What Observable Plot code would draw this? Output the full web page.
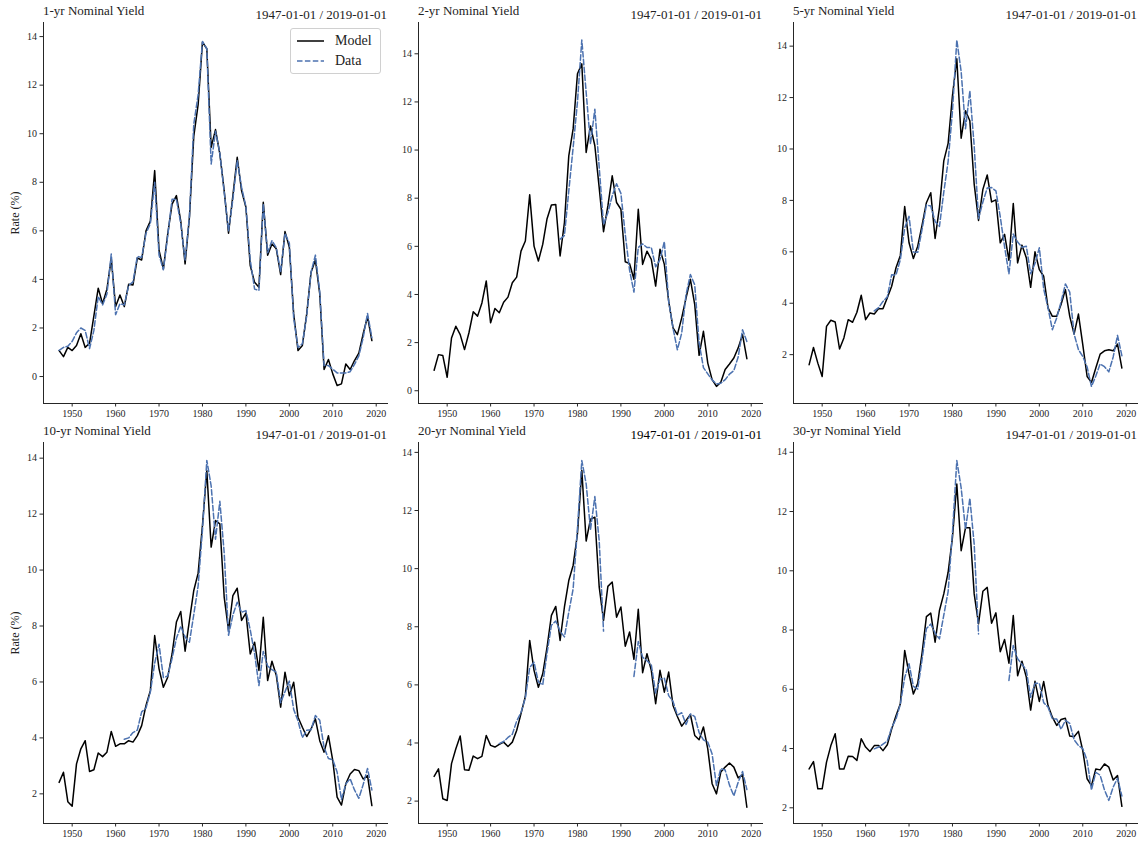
<!DOCTYPE html>
<html>
<head>
<meta charset="utf-8">
<script src="https://cdn.jsdelivr.net/npm/d3@7"></script>
<script src="https://cdn.jsdelivr.net/npm/@observablehq/plot@0.6"></script>
<style>
  html, body { margin: 0; padding: 0; background: #fff; }
  #root { position: relative; width: 1143px; height: 843px; font-family: "Liberation Serif", "DejaVu Serif", serif; color: #222; }
  .panel { position: absolute; }
  .ttl { position: absolute; font-size: 13px; line-height: 14px; white-space: nowrap; }
  .ylab { position: absolute; font-size: 12px; white-space: nowrap; transform: translate(-50%, -50%) rotate(-90deg); }
  .legend { position: absolute; left: 290px; top: 28px; width: 89px; height: 44px; border: 1px solid #d0d0d0; border-radius: 3px; background: rgba(255,255,255,0.85); }
  .legend .item { position: absolute; left: 44px; font-size: 14px; line-height: 16px; }
</style>
</head>
<body>
<div id="root"></div>
<script>
// ---------------- data ----------------
const years = d3.range(1947, 2020); // 1947 ... 2019 (annual, January)
const xTicks = [1950, 1960, 1970, 1980, 1990, 2000, 2010, 2020];
const seriesNames = ["Model", "Data"];
const panelTitles = ["1-yr Nominal Yield", "2-yr Nominal Yield", "5-yr Nominal Yield",
                     "10-yr Nominal Yield", "20-yr Nominal Yield", "30-yr Nominal Yield"];
const dateRangeLabel = "1947-01-01 / 2019-01-01";
const yAxisLabel = "Rate (%)";

const model1 = [1.07,0.82,1.2,1.07,1.28,1.76,1.2,1.37,2.5,3.64,
  3.0,3.6,4.85,2.88,3.36,2.88,3.8,3.77,4.88,4.8,
  6.0,6.4,8.48,5.2,4.43,5.87,7.1,7.45,6.4,4.64,
  6.56,9.9,11.2,13.77,13.5,9.44,10.17,9.17,7.66,5.9,
  7.45,9.03,7.66,6.97,4.57,3.88,3.68,7.18,5.0,5.46,
  5.26,4.2,5.97,5.32,2.58,1.07,1.28,2.58,4.3,4.8,
  3.4,0.29,0.7,0.11,-0.37,-0.3,0.52,0.29,0.66,0.96,
  1.76,2.47,1.48];
const data1 = [1.08,1.2,1.25,1.45,1.8,2.0,1.9,1.15,1.9,3.3,
  2.95,3.4,5.05,2.55,3.0,2.95,3.75,3.9,4.95,4.9,
  5.9,6.3,8.0,5.0,4.4,5.8,7.3,7.3,6.3,4.8,
  6.6,10.4,11.6,13.8,13.5,8.75,10.1,9.2,7.6,6.0,
  7.3,8.9,7.8,7.0,4.8,3.6,3.55,7.1,5.1,5.6,
  5.3,4.3,5.9,5.5,2.4,1.2,1.35,2.5,4.3,5.0,
  3.5,0.45,0.45,0.3,0.15,0.15,0.15,0.2,0.5,0.85,
  1.6,2.6,1.6];

const model2 = [0.85,1.5,1.46,0.56,2.19,2.68,2.33,1.71,2.4,3.28,
  3.1,3.65,4.56,2.82,3.42,3.24,3.68,3.89,4.49,4.72,
  5.8,6.22,8.14,6.01,5.39,6.08,7.15,7.72,7.74,5.6,
  6.99,9.76,10.88,13.17,13.58,9.9,11.0,10.18,8.44,6.61,
  7.68,8.93,7.82,7.54,5.36,5.28,4.63,7.54,5.25,5.8,
  5.46,4.35,5.88,5.25,3.72,2.61,2.33,3.03,3.86,4.63,
  3.58,1.47,2.47,1.15,0.46,0.18,0.35,0.88,1.11,1.36,
  1.78,2.33,1.33];
const data2 = [null,null,null,null,null,null,null,null,null,null,
  null,null,null,null,null,null,null,null,null,null,
  null,null,null,null,null,null,null,null,null,6.3,
  6.45,8.3,10.1,12.0,14.57,12.4,10.25,11.7,9.3,6.9,
  7.4,8.1,8.6,8.2,6.5,5.0,4.1,5.95,6.1,5.95,
  5.95,5.15,5.45,6.2,3.7,2.6,1.7,2.4,4.0,4.83,
  4.4,2.0,0.96,0.7,0.45,0.28,0.31,0.46,0.69,0.84,
  1.4,2.53,2.05];

const model3 = [1.61,2.28,1.67,1.15,3.1,3.34,3.27,2.22,2.65,3.36,
  3.26,3.65,4.31,3.36,3.62,3.58,3.79,3.79,4.21,4.66,
  5.38,5.86,7.76,6.35,5.74,6.22,7.04,7.91,8.3,6.52,
  7.72,9.54,10.22,12.08,13.51,10.42,11.49,11.1,8.63,7.22,
  8.43,8.99,7.94,8.02,6.35,6.68,5.67,7.88,5.57,6.26,
  5.77,4.62,6.0,5.31,5.05,3.82,3.49,3.49,3.95,4.53,
  3.49,2.8,3.58,2.39,1.15,0.92,1.48,2.02,2.15,2.19,
  2.15,2.41,1.48];
const data3 = [null,null,null,null,null,null,null,null,null,null,
  null,null,null,null,null,3.70,3.83,4.07,4.25,5.11,
  5.10,5.70,6.93,7.38,5.99,5.98,6.87,7.82,7.78,7.18,
  6.99,8.32,9.52,11.48,14.24,13.01,10.79,12.26,10.12,7.30,
  7.94,8.48,8.50,8.37,7.37,6.19,5.14,6.69,6.38,6.18,
  6.22,5.15,5.55,6.16,4.56,3.82,2.97,3.43,4.05,4.75,
  4.43,2.80,2.20,1.93,1.52,0.76,1.17,1.64,1.53,1.33,
  1.91,2.75,1.96];

const model4 = [2.41,2.77,1.72,1.56,3.07,3.61,3.9,2.8,2.86,3.46,
  3.33,3.49,4.23,3.7,3.79,3.79,3.9,3.85,4.08,4.44,
  5.16,5.69,7.66,6.47,5.81,6.17,7.0,8.14,8.52,7.1,
  8.2,9.27,9.89,11.6,13.56,10.82,11.77,11.65,9.03,7.84,
  9.09,9.35,8.2,8.46,7.0,7.42,6.41,8.31,6.05,6.74,
  6.23,5.1,6.35,5.51,5.99,4.74,4.38,4.05,4.32,4.68,
  3.9,3.49,4.08,3.19,1.88,1.6,2.36,2.71,2.87,2.83,
  2.53,2.65,1.58];
const data4 = [null,null,null,null,null,null,null,null,null,null,
  null,null,null,null,null,3.95,4.00,4.19,4.28,4.93,
  5.07,5.64,6.67,7.35,6.16,6.21,6.84,7.56,7.99,7.61,
  7.42,8.41,9.43,11.43,13.92,13.01,11.10,12.46,10.62,7.67,
  8.39,8.85,8.49,8.55,7.86,7.01,5.87,7.09,6.57,6.44,
  6.35,5.26,5.65,6.03,5.02,4.61,4.01,4.27,4.29,4.80,
  4.63,3.66,3.26,3.22,2.78,1.80,2.35,2.54,2.14,1.84,
  2.33,2.91,2.14];

const model5 = [2.85,3.11,2.08,2.02,3.29,3.8,4.24,3.08,3.06,3.55,
  3.46,3.54,4.26,3.92,3.86,3.95,4.03,3.88,4.03,4.43,
  5.01,5.6,7.53,6.5,5.92,6.38,7.3,8.39,8.7,7.53,
  8.68,9.59,10.11,11.2,13.38,10.95,11.7,11.77,9.37,8.22,
  9.39,9.54,8.33,8.68,7.33,7.82,6.88,8.6,6.42,7.07,
  6.5,5.35,6.5,5.75,6.44,5.29,4.91,4.58,4.78,4.98,
  4.26,4.11,4.55,3.8,2.6,2.25,3.0,3.17,3.31,3.17,
  2.8,2.91,1.79];
const data5 = [null,null,null,null,null,null,null,null,null,null,
  null,null,null,null,null,3.98,4.05,4.19,4.3,4.75,
  5.05,5.55,6.6,6.78,6.1,6.0,7.1,8.05,8.2,7.85,
  7.65,8.5,9.3,11.4,13.72,12.92,11.34,12.48,10.97,7.85,
  null,null,null,null,null,null,6.29,7.49,6.95,6.83,
  6.69,5.72,6.20,6.23,5.63,5.43,4.96,5.04,4.64,5.00,
  4.91,4.36,4.11,4.03,3.62,2.54,3.12,3.07,2.55,2.18,
  2.65,3.02,2.40];

const model6 = [3.31,3.56,2.64,2.64,3.54,4.1,4.5,3.31,3.31,3.74,
  3.73,3.6,4.33,4.05,3.9,4.1,4.1,3.93,4.13,4.66,
  5.11,5.51,7.31,6.52,5.84,6.2,7.22,8.45,8.57,7.59,
  8.66,9.22,9.95,11.13,12.93,10.68,11.45,11.45,9.22,8.21,
  9.31,9.44,8.23,8.58,7.27,7.68,6.88,8.49,6.46,6.95,
  6.41,5.3,6.27,5.59,6.26,5.45,5.06,4.78,4.98,5.02,
  4.42,4.4,4.58,3.93,2.98,2.75,3.31,3.28,3.48,3.37,
  2.94,3.09,2.05];
const data6 = [null,null,null,null,null,null,null,null,null,null,
  null,null,null,null,null,3.99,4.05,4.15,4.25,4.7,
  5.0,5.5,6.4,6.86,6.1,6.01,7.0,8.05,8.2,7.9,
  7.7,8.5,9.3,11.3,13.72,12.8,11.4,12.45,10.9,7.87,
  null,null,null,null,null,null,6.3,7.48,7.03,6.85,
  6.65,5.73,6.2,6.2,5.55,5.4,5.0,5.0,4.65,4.95,
  4.85,4.3,4.1,4.0,3.6,2.6,3.2,3.1,2.6,2.25,
  2.7,3.0,2.4];

const yTicks1 = [0, 2, 4, 6, 8, 10, 12, 14];
const yTicks2 = [0, 2, 4, 6, 8, 10, 12, 14];
const yTicks3 = [2, 4, 6, 8, 10, 12, 14];
const yTicks4 = [2, 4, 6, 8, 10, 12, 14];
const yTicks5 = [2, 4, 6, 8, 10, 12, 14];
const yTicks6 = [2, 4, 6, 8, 10, 12, 14];

// ---------------- layout / style ----------------
const COLORS = {Model: "#000000", Data: "#4C72B0"};
const X_DOMAIN = [1943.4, 2022.6];
const PW = 344, PH = 381;           // axes box
const ML = 40, MR = 6, MT = 22, MB = 22;

const panels = [
  {title: panelTitles[0], model: model1, data: data1, yDomain: [-1.11, 14.58], yTicks: yTicks1, ax: 43,  ay: 22,  ylab: true},
  {title: panelTitles[1], model: model2, data: data2, yDomain: [-0.53, 15.30], yTicks: yTicks2, ax: 418, ay: 22},
  {title: panelTitles[2], model: model3, data: data3, yDomain: [0.10, 14.92],  yTicks: yTicks3, ax: 793, ay: 22},
  {title: panelTitles[3], model: model4, data: data4, yDomain: [0.94, 14.56],  yTicks: yTicks4, ax: 43,  ay: 442, ylab: true},
  {title: panelTitles[4], model: model5, data: data5, yDomain: [1.23, 14.34],  yTicks: yTicks5, ax: 418, ay: 442, darkDate: true},
  {title: panelTitles[5], model: model6, data: data6, yDomain: [1.47, 14.33],  yTicks: yTicks6, ax: 793, ay: 442}
];

const root = document.getElementById("root");

panels.forEach((p, i) => {
  const modelRows = years.map((yr, k) => ({year: yr, value: p.model[k]}));
  const dataRows = years.map((yr, k) => ({year: yr, value: p.data[k]}));

  const chart = Plot.plot({
    width: ML + PW + MR,
    height: MT + PH + MB,
    marginLeft: ML, marginRight: MR, marginTop: MT, marginBottom: MB,
    style: {background: "transparent", overflow: "visible", color: "#262626",
            fontFamily: "'Liberation Serif', 'DejaVu Serif', serif", fontSize: "10px"},
    x: {domain: X_DOMAIN, ticks: xTicks, tickFormat: d3.format("d"), line: true, label: null, tickSize: 3.5, tickPadding: 3},
    y: {domain: p.yDomain, ticks: p.yTicks, tickFormat: d3.format("d"), line: true, label: null, tickSize: 3.5, tickPadding: 3},
    marks: [
      Plot.line(modelRows, {x: "year", y: "value", stroke: COLORS.Model, strokeWidth: 1.5}),
      Plot.line(dataRows, {x: "year", y: "value", stroke: COLORS.Data, strokeWidth: 1.5, strokeDasharray: "5.5,2.4"})
    ]
  });
  const wrap = document.createElement("div");
  wrap.className = "panel";
  wrap.style.left = (p.ax - ML) + "px";
  wrap.style.top = (p.ay - MT) + "px";
  wrap.appendChild(chart);
  root.appendChild(wrap);

  const t = document.createElement("div");
  t.className = "ttl";
  t.textContent = p.title;
  t.style.left = p.ax + "px";
  t.style.top = (p.ay - 18) + "px";
  root.appendChild(t);

  const d = document.createElement("div");
  d.className = "ttl";
  d.textContent = dateRangeLabel;
  d.style.left = (p.ax + PW) + "px";
  d.style.top = (p.ay - 14) + "px";
  d.style.transform = "translateX(-100%)";
  if (p.darkDate) d.style.color = "#000";
  root.appendChild(d);

  if (p.ylab) {
    const yl = document.createElement("div");
    yl.className = "ylab";
    yl.textContent = yAxisLabel;
    yl.style.left = "15px";
    yl.style.top = (p.ay + PH / 2) + "px";
    root.appendChild(yl);
  }
});

// legend (panel 1)
const legend = document.createElement("div");
legend.className = "legend";
seriesNames.forEach((name, k) => {
  const svgNS = "http://www.w3.org/2000/svg";
  const s = document.createElementNS(svgNS, "svg");
  s.setAttribute("width", "28"); s.setAttribute("height", "4");
  s.style.position = "absolute"; s.style.left = "6px"; s.style.top = (10 + k * 20) + "px";
  const ln = document.createElementNS(svgNS, "line");
  ln.setAttribute("x1", "0"); ln.setAttribute("x2", "27"); ln.setAttribute("y1", "2"); ln.setAttribute("y2", "2");
  ln.setAttribute("stroke", COLORS[name]); ln.setAttribute("stroke-width", "1.5");
  if (name === "Data") ln.setAttribute("stroke-dasharray", "5.5,2.4");
  s.appendChild(ln);
  legend.appendChild(s);
  const lab = document.createElement("div");
  lab.className = "item";
  lab.textContent = name;
  lab.style.top = (4 + k * 20) + "px";
  legend.appendChild(lab);
});
root.appendChild(legend);
</script>
</body>
</html>
